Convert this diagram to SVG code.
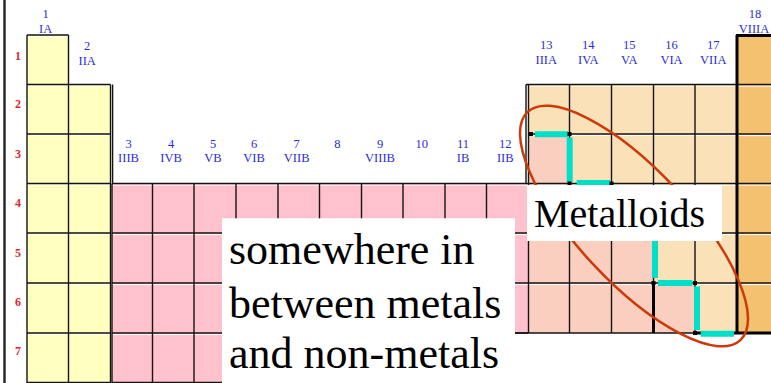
<svg xmlns="http://www.w3.org/2000/svg" width="771" height="383" viewBox="0 0 771 383">
  <style>
    .grid{fill:none;stroke:#141414;stroke-width:1.4}
    .hl{fill:none;stroke:#fff;stroke-width:1}
    .thick{fill:none;stroke:#000;stroke-width:3}
    .s{fill:#FFFFBF}
    .d{fill:#FFC1CC}
    .pn{fill:#FBE1B8}
    .pm{fill:#FBCFBF}
    .ng{fill:#F4C171}
    .grp{font-family:"Liberation Serif","Times New Roman",serif;font-size:12.5px;fill:#2B2BD6;text-anchor:middle}
    .per{font-family:"Liberation Serif","Times New Roman",serif;font-size:12px;font-weight:bold;fill:#E0262E;text-anchor:middle}
    .stair{fill:none;stroke:#00DFC8;stroke-width:6}
    .dot{fill:#000}
    .box{fill:#fff}
    .note{font-family:"Liberation Serif","Times New Roman",serif;fill:#000}
  </style>

  <rect x="0" y="0" width="771" height="383" fill="#fff"/>
  <!-- outer frame line on the left -->
  <path d="M4.5 0V383" stroke="#222" stroke-width="2.4" fill="none"/>

  <!-- s-block: groups 1 and 2 -->
  <g id="block-s">
    <rect class="s" x="27" y="35" width="41.5" height="347.5"/>
    <rect class="s" x="68.5" y="84.5" width="42" height="298"/>
    <path class="hl" d="M27 36.6H68.5M27 86.1H110.5M27 135.6H110.5M27 185.1H110.5M27 234.6H110.5M27 284.6H110.5M27 334.6H110.5"/>
    <path class="grid" d="M27 35H68.5M27 84.5H110.5M27 134H110.5M27 183.5H110.5M27 233H110.5M27 283H110.5M27 333H110.5M27 382.5H110.5M27 35V383M68.5 35V383M110.5 84.5V383M112.6 84.5V183.5"/>
  </g>

  <!-- d-block: transition metals -->
  <g id="block-d">
    <rect class="d" x="112" y="183.5" width="416" height="149.5"/>
    <rect class="d" x="112" y="333" width="374.5" height="49.5"/>
    <path class="hl" d="M112 185.1H528M112 234.6H528M112 284.6H528M112 334.6H486.5"/>
    <path class="grid" d="M112 183.5H528M112 233H528M112 283H528M112 333H528M112 382.5H486.5
      M112 183.5V383M152.5 183.5V383M194 183.5V383M236 183.5V383M278 183.5V383M319.5 183.5V383
      M361.5 183.5V383M403 183.5V383M445 183.5V383M486.5 183.5V383"/>
  </g>

  <!-- p-block: groups 13 to 17 -->
  <g id="block-p">
    <rect class="pn" x="528" y="84.5" width="209" height="248.5"/>
    <rect class="pm" x="528" y="134" width="41.5" height="49.5"/>
    <rect class="pm" x="528" y="183.5" width="83.5" height="49.5"/>
    <rect class="pm" x="528" y="233" width="125.5" height="50"/>
    <rect class="pm" x="528" y="283" width="167" height="50"/>
    <path class="hl" d="M528 86.1H737M528 135.6H737M528 185.1H737M528 234.6H737M528 284.6H737"/>
    <path class="grid" d="M526 84.5H737M528 134H737M528 183.5H737M528 233H737M528 283H737M515 333H695
      M526 84.5V183.5M528.5 84.5V333M569.5 84.5V333M611.5 84.5V333M653.5 84.5V333M695 84.5V333"/>
  </g>

  <!-- group 18: noble gases -->
  <g id="group-18">
    <rect class="ng" x="737" y="35.5" width="35" height="297.5"/>
    <path class="hl" d="M737 86.1H771M737 135.6H771M737 185.1H771M737 234.6H771M737 284.6H771"/>
    <path class="grid" d="M737 84.5H771M737 134H771M737 183.5H771M737 233H771M737 283H771"/>
    <path class="thick" d="M737 35V334M736 35.5H771"/>
  </g>

  <!-- heavier borders along the metal / non-metal boundary -->
  <path class="thick" d="M653.5 283V333M695 333H771"/>

  <!-- staircase line -->
  <g id="metalloid-line">
    <path class="stair" d="M535 134.3H568M569.7 137.5V182M576.7 183H610M612 186V231M617 233.5H651M655 236V278M658 283H692.5M697 286.5V330M700.7 333.7H734"/>
    <rect class="dot" x="529" y="132" width="4" height="4"/>
    <rect class="dot" x="567.5" y="132" width="4" height="4"/>
    <rect class="dot" x="567.5" y="181.5" width="4" height="4"/>
    <rect class="dot" x="609.5" y="181.5" width="4" height="4"/>
    <rect class="dot" x="651.5" y="281" width="4" height="4"/>
    <rect class="dot" x="693" y="281" width="4" height="4"/>
    <rect class="dot" x="693" y="331" width="4" height="4"/>
  </g>

  <!-- period numbers -->
  <g id="periods">
    <text class="per" x="18" y="59.5">1</text>
    <text class="per" x="18" y="108">2</text>
    <text class="per" x="18" y="157.5">3</text>
    <text class="per" x="18" y="207">4</text>
    <text class="per" x="18" y="256.5">5</text>
    <text class="per" x="18" y="306">6</text>
    <text class="per" x="18" y="354.5">7</text>
  </g>

  <!-- group headings -->
  <g id="groups">
    <text class="grp" x="45.6" y="18">1</text><text class="grp" x="45.6" y="32.5">IA</text>
    <text class="grp" x="87.2" y="50">2</text><text class="grp" x="87.2" y="64.5">IIA</text>
    <text class="grp" x="128.5" y="148">3</text><text class="grp" x="128.5" y="161.5">IIIB</text>
    <text class="grp" x="171" y="148">4</text><text class="grp" x="171" y="161.5">IVB</text>
    <text class="grp" x="213" y="148">5</text><text class="grp" x="213" y="161.5">VB</text>
    <text class="grp" x="254" y="148">6</text><text class="grp" x="254" y="161.5">VIB</text>
    <text class="grp" x="296.7" y="148">7</text><text class="grp" x="296.7" y="161.5">VIIB</text>
    <text class="grp" x="337.3" y="148">8</text>
    <text class="grp" x="380" y="148">9</text><text class="grp" x="380" y="161.5">VIIIB</text>
    <text class="grp" x="421.7" y="148">10</text>
    <text class="grp" x="463" y="148">11</text><text class="grp" x="463" y="161.5">IB</text>
    <text class="grp" x="505.3" y="148">12</text><text class="grp" x="505.3" y="161.5">IIB</text>
    <text class="grp" x="546.3" y="49">13</text><text class="grp" x="546.3" y="64">IIIA</text>
    <text class="grp" x="588.3" y="49">14</text><text class="grp" x="588.3" y="64">IVA</text>
    <text class="grp" x="629.3" y="49">15</text><text class="grp" x="629.3" y="64">VA</text>
    <text class="grp" x="671.5" y="49">16</text><text class="grp" x="671.5" y="64">VIA</text>
    <text class="grp" x="713.3" y="49">17</text><text class="grp" x="713.3" y="64">VIIA</text>
    <text class="grp" x="755" y="18">18</text><text class="grp" x="754" y="32.5">VIIIA</text>
  </g>

  <!-- loop around the metalloid band -->
  <ellipse id="metalloid-ring" cx="634" cy="226" rx="156" ry="56" transform="rotate(47 634 226)" fill="none" stroke="#CC3A0A" stroke-width="2.5"/>

  <!-- callouts -->
  <g id="callout-metalloids">
    <rect class="box" x="527" y="185" width="195" height="56"/>
    <text class="note" x="534" y="226.7" font-size="40">Metalloids</text>
  </g>
  <g id="callout-between">
    <rect class="box" x="222" y="218.3" width="293" height="165"/>
    <text class="note" font-size="44">
      <tspan x="229" y="264">somewhere in</tspan>
      <tspan x="229" y="318.3">between metals</tspan>
      <tspan x="229" y="368.3">and non-metals</tspan>
    </text>
  </g>
</svg>
